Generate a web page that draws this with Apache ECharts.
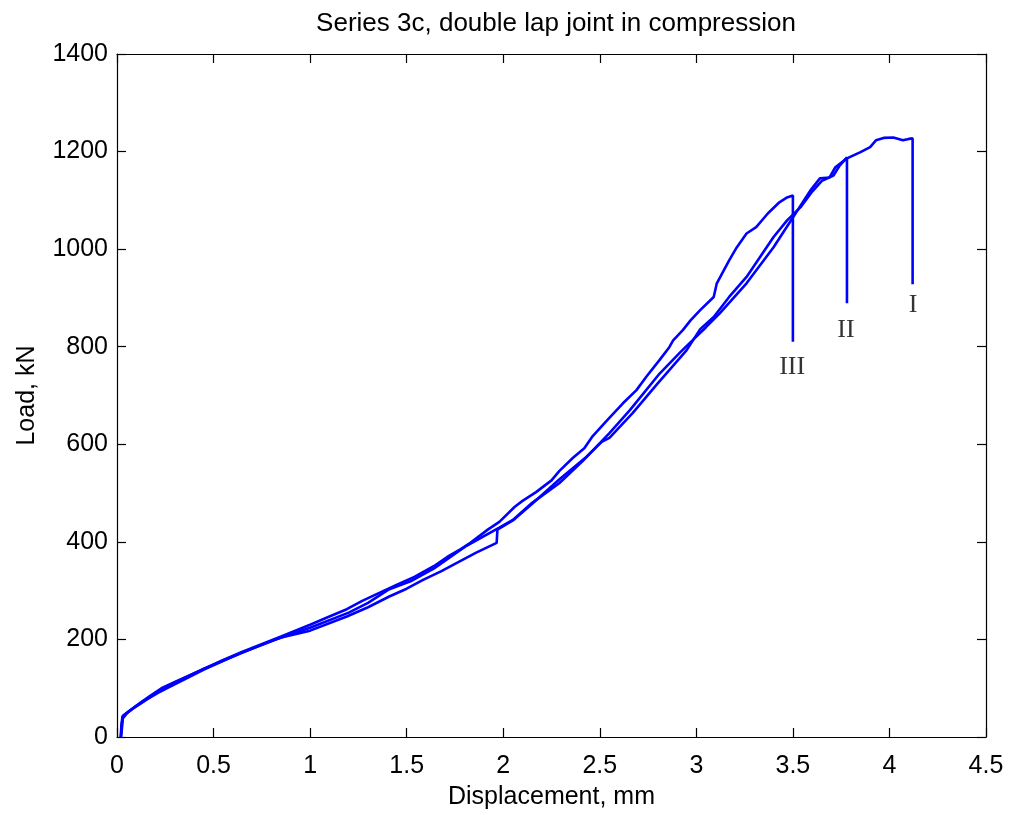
<!DOCTYPE html>
<html>
<head>
<meta charset="utf-8">
<script src="https://cdn.jsdelivr.net/npm/echarts@6/dist/echarts.min.js"></script>
<style>
html,body{margin:0;padding:0;background:#fff;}
#chart{width:1011px;height:815px;}
</style>
</head>
<body>
<div id="chart"></div>
<script>
// Displacement (mm), Load (kN) pairs
const curveI = [[0.02,0],[0.024,25],[0.032,44],[0.07,55],[0.12,68],[0.2,90],[0.3,112],[0.45,140],[0.6,165],[0.8,197],[1.0,224],[1.2,255],[1.3,275],[1.41,303],[1.52,319],[1.64,345],[1.81,392],[1.98,429],[2.05,445],[2.15,480],[2.29,520],[2.41,565],[2.55,623],[2.656,670],[2.81,745],[2.92,790],[2.98,813],[3.05,840],[3.12,868],[3.26,930],[3.40,1004],[3.50,1065],[3.59,1120],[3.64,1145],[3.69,1147],[3.72,1168],[3.78,1186],[3.85,1199],[3.90,1209],[3.93,1223],[3.97,1228],[4.02,1229],[4.07,1223],[4.1,1226],[4.12,1227],[4.12,928]];
const curveII = [[0.02,0],[0.022,20],[0.028,42],[0.06,52],[0.1,64],[0.15,76],[0.21,90],[0.26,100],[0.35,118],[0.45,138],[0.64,172],[0.85,204],[1.0,218],[1.19,247],[1.3,266],[1.41,288],[1.5,304],[1.585,322],[1.68,340],[1.76,357],[1.86,378],[1.966,398],[1.97,425],[2.05,444],[2.15,478],[2.29,528],[2.43,574],[2.51,605],[2.55,613],[2.67,664],[2.80,725],[2.86,752],[2.95,793],[3.02,836],[3.09,861],[3.17,902],[3.26,943],[3.33,984],[3.40,1025],[3.47,1059],[3.54,1086],[3.60,1118],[3.65,1140],[3.71,1151],[3.74,1170],[3.78,1188],[3.78,889]];
const curveIII = [[0.02,0],[0.025,15],[0.03,38],[0.05,48],[0.08,58],[0.12,70],[0.17,84],[0.23,100],[0.3,113],[0.43,136],[0.55,158],[0.65,175],[0.85,206],[1.0,230],[1.1,247],[1.19,262],[1.27,279],[1.35,294],[1.45,312],[1.54,328],[1.64,350],[1.71,369],[1.78,385],[1.83,398],[1.92,425],[1.98,441],[2.06,472],[2.1,484],[2.17,502],[2.25,526],[2.29,545],[2.36,572],[2.42,592],[2.46,615],[2.54,650],[2.62,684],[2.69,711],[2.74,738],[2.81,773],[2.86,799],[2.88,813],[2.93,834],[2.97,854],[3.02,875],[3.09,902],[3.106,930],[3.17,977],[3.21,1004],[3.26,1032],[3.31,1045],[3.37,1073],[3.43,1096],[3.47,1106],[3.5,1110],[3.5,810]];
const annotations = [["I",4.122,885],["II",3.775,834],["III",3.496,758]];
const xTicks = {min:0, max:4.5, step:0.5};
const yTicks = {min:0, max:1400, step:200};

const chart = echarts.init(document.getElementById('chart'), null, {renderer:'canvas'});
const font = 'Liberation Sans, Arial, Helvetica, sans-serif';
const axisCommon = {
  axisLine:{show:true, onZero:false, lineStyle:{color:'#000', width:1.2}},
  axisTick:{show:true, inside:true, length:9, lineStyle:{color:'#000', width:1.2}},
  splitLine:{show:false}
};
const lineSeries = (name, data) => ({
  name, type:'line', data, showSymbol:false, symbol:'none',
  lineStyle:{color:'#0000ff', width:2.6}, animation:false, z:3
});
chart.setOption({
  animation:false,
  backgroundColor:'#fff',
  title:{text:'Series 3c, double lap joint in compression', left:551, textAlign:'center', top:6,
    textStyle:{fontFamily:font, fontSize:26, fontWeight:'normal', color:'#000'}},
  grid:{left:117, right:25, top:54, bottom:77, containLabel:false},
  xAxis:[
    Object.assign({type:'value', position:'bottom', min:xTicks.min, max:xTicks.max, interval:xTicks.step,
      name:'Displacement, mm', nameLocation:'middle', nameGap:48,
      nameTextStyle:{fontFamily:font, fontSize:25, color:'#000'},
      axisLabel:{fontFamily:font, fontSize:25, color:'#000', margin:17, formatter:v=>String(v)}}, axisCommon),
    Object.assign({type:'value', position:'top', min:xTicks.min, max:xTicks.max, interval:xTicks.step,
      axisLabel:{show:false}}, axisCommon)
  ],
  yAxis:[
    Object.assign({type:'value', position:'left', min:yTicks.min, max:yTicks.max, interval:yTicks.step,
      name:'Load, kN', nameLocation:'middle', nameGap:77,
      nameTextStyle:{fontFamily:font, fontSize:25, color:'#000'},
      axisLabel:{fontFamily:font, fontSize:25, color:'#000', margin:9, formatter:v=>String(v)}}, axisCommon),
    Object.assign({type:'value', position:'right', min:yTicks.min, max:yTicks.max, interval:yTicks.step,
      axisLabel:{show:false}}, axisCommon)
  ],
  series:[
    lineSeries('I', curveI),
    lineSeries('II', curveII),
    lineSeries('III', curveIII),
    {type:'scatter', symbolSize:0, data:annotations.map(a=>({value:[a[1],a[2]], name:a[0]})),
      label:{show:true, position:'inside', formatter:p=>p.name,
        fontFamily:'Liberation Serif, Times New Roman, serif', fontSize:26, color:'#000'},
      silent:true, z:4}
  ]
});
</script>
</body>
</html>
